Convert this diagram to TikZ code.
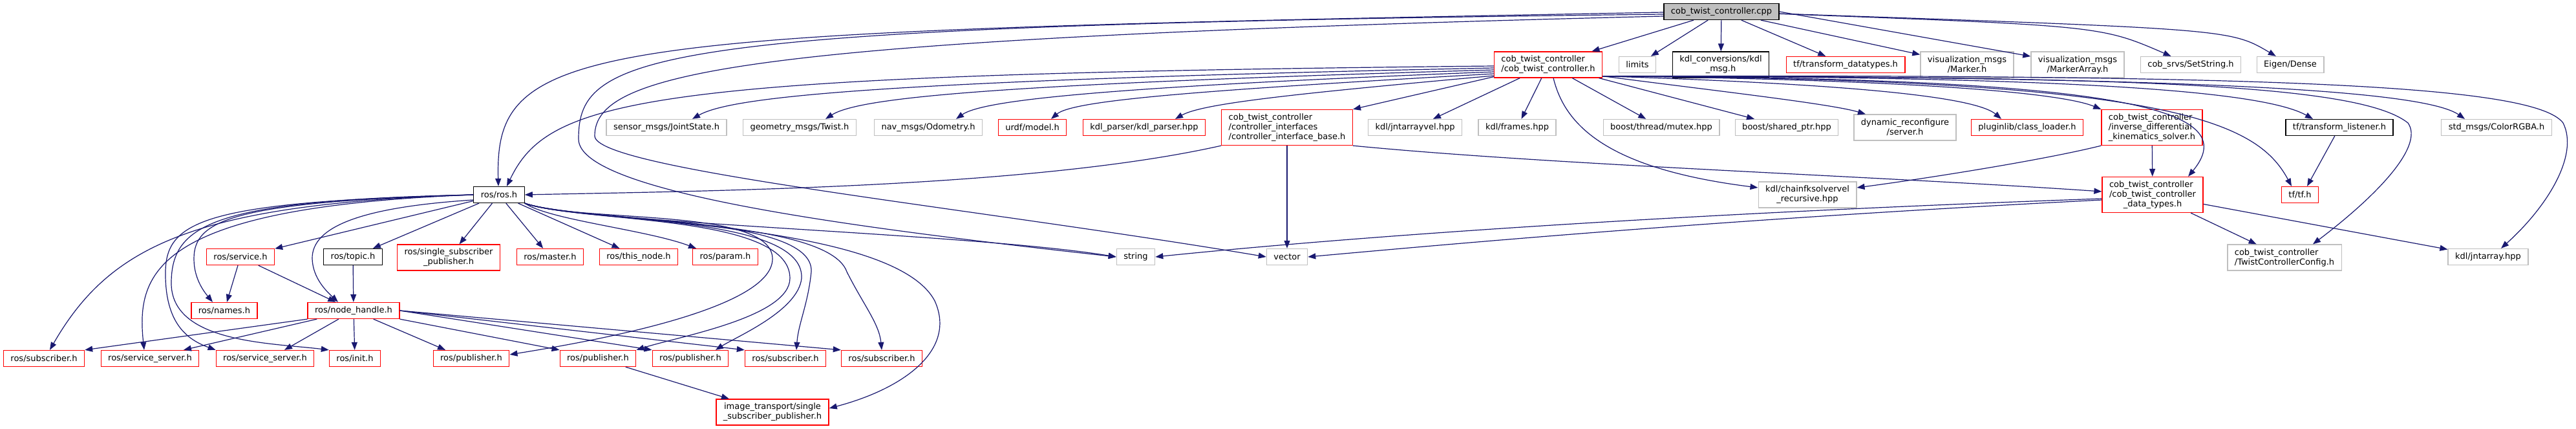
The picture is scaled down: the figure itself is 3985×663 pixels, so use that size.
\documentclass[tikz,border=0pt]{standalone}
\usepackage{fontspec}
\setmainfont{DejaVu Sans}
\usetikzlibrary{arrows.meta}
\definecolor{edgeblue}{HTML}{191970}
\definecolor{boxgray}{HTML}{BFBFBF}
\definecolor{boxred}{HTML}{FF0000}
\tikzset{
  every node/.style={font=\fontsize{13}{15}\selectfont},
  file/.style={rectangle, draw=boxgray, line width=1.3pt, inner xsep=11pt, inner ysep=0pt, minimum height=25pt, align=center},
  redfile/.style={file, draw=boxred},
  blackfile/.style={file, draw=black},
  rootfile/.style={file, draw=black, fill=boxgray},
  twolines/.style={minimum height=40pt},
  threelines/.style={minimum height=55pt},
  incl/.style={-{Triangle[length=12pt,width=9pt]}, line width=1.2pt, edgeblue},
}

\begin{document}
\begin{tikzpicture}[x=1pt,y=-1pt]
    \useasboundingbox (0,0) rectangle (3985,663);
    % files
    \node[rootfile] (root) at (2663,18) {cob\_twist\_controller.cpp};

    \node[redfile,twolines,align=left] (ctrl) at (2395,100) {cob\_twist\_controller\\/cob\_twist\_controller.h};
    \node[file] (limits) at (2533,100) {limits};
    \node[blackfile,twolines] (kdlconv) at (2662,100) {kdl\_conversions/kdl\\\_msg.h};
    \node[redfile] (tfdata) at (2855,100) {tf/transform\_datatypes.h};
    \node[file,twolines] (vismarker) at (3043,100) {visualization\_msgs\\/Marker.h};
    \node[file,twolines] (vismarkerarr) at (3214,100) {visualization\_msgs\\/MarkerArray.h};
    \node[file] (setstring) at (3389,100) {cob\_srvs/SetString.h};
    \node[file] (eigen) at (3543,100) {Eigen/Dense};

    \node[file] (sensor) at (1031,197) {sensor\_msgs/JointState.h};
    \node[file] (twist) at (1237,197) {geometry\_msgs/Twist.h};
    \node[file] (odom) at (1436,197) {nav\_msgs/Odometry.h};
    \node[redfile] (urdf) at (1597,197) {urdf/model.h};
    \node[redfile] (kdlparser) at (1770,197) {kdl\_parser/kdl\_parser.hpp};
    \node[redfile,threelines,align=left] (ifacebase) at (1991,197) {cob\_twist\_controller\\/controller\_interfaces\\/controller\_interface\_base.h};
    \node[file] (jntvel) at (2189,197) {kdl/jntarrayvel.hpp};
    \node[file] (frames) at (2347,197) {kdl/frames.hpp};
    \node[file] (mutex) at (2570,197) {boost/thread/mutex.hpp};
    \node[file] (sharedptr) at (2764,197) {boost/shared\_ptr.hpp};
    \node[file,twolines] (dynreconf) at (2947,197) {dynamic\_reconfigure\\/server.h};
    \node[redfile] (pluginlib) at (3136,197) {pluginlib/class\_loader.h};
    \node[redfile,threelines,align=left] (invdiff) at (3329,197) {cob\_twist\_controller\\/inverse\_differential\\\_kinematics\_solver.h};
    \node[blackfile] (tflisten) at (3619,197) {tf/transform\_listener.h};
    \node[file] (colorrgba) at (3862,197) {std\_msgs/ColorRGBA.h};

    \node[blackfile] (ros) at (772,301) {ros/ros.h};
    \node[file,twolines] (chainfk) at (2796,301) {kdl/chainfksolvervel\\\_recursive.hpp};
    \node[redfile,threelines,align=left] (datatypes) at (3330,301) {cob\_twist\_controller\\/cob\_twist\_controller\\\hspace*{\fill}\_data\_types.h\hspace*{\fill}};
    \node[redfile] (tf) at (3558,301) {tf/tf.h};

    \node[redfile] (service) at (372,397) {ros/service.h};
    \node[blackfile] (topic) at (546,397) {ros/topic.h};
    \node[redfile,twolines] (singlesub) at (694,398) {ros/single\_subscriber\\\_publisher.h};
    \node[redfile] (master) at (851,397) {ros/master.h};
    \node[redfile] (thisnode) at (988,397) {ros/this\_node.h};
    \node[redfile] (param) at (1122,397) {ros/param.h};
    \node[file] (string) at (1757,397) {string};
    \node[file] (vector) at (1991,397) {vector};
    \node[file,twolines,align=left] (twistcfg) at (3534,398) {cob\_twist\_controller\\/TwistControllerConfig.h};
    \node[file] (jntarray) at (3849,397) {kdl/jntarray.hpp};

    \node[redfile] (names) at (347,480) {ros/names.h};
    \node[redfile] (nodehandle) at (547,480) {ros/node\_handle.h};

    \node[redfile] (sub1) at (68,554) {ros/subscriber.h};
    \node[redfile] (srv1) at (232,554) {ros/service\_server.h};
    \node[redfile] (srv2) at (410,554) {ros/service\_server.h};
    \node[redfile] (init) at (549,554) {ros/init.h};
    \node[redfile] (pub1) at (729,554) {ros/publisher.h};
    \node[redfile] (pub2) at (925,554) {ros/publisher.h};
    \node[redfile] (pub3) at (1068,554) {ros/publisher.h};
    \node[redfile] (sub2) at (1215,554) {ros/subscriber.h};
    \node[redfile] (sub3) at (1364,554) {ros/subscriber.h};

    \node[redfile,twolines] (imgtrans) at (1195,637) {image\_transport/single\\\_subscriber\_publisher.h};

    % includes of cob_twist_controller.cpp
    \draw[incl] (root) -- (ctrl);
    \draw[incl] (root) -- (limits);
    \draw[incl] (root) -- (kdlconv);
    \draw[incl] (root) -- (tfdata);
    \draw[incl] (root) -- (vismarker);
    \draw[incl] (root.east) -- (vismarkerarr);
    \draw[incl] (root) .. controls (3250,40) .. (setstring);
    \draw[incl] (root) .. controls (3450,45) .. (eigen);
    \draw[incl] ([yshift=-1pt]root.west) .. controls (900,50) and (765,60) .. ([xshift=-1pt]ros.north);
    \draw[incl] ([yshift=-4pt]root.west) .. controls (1000,40) and (895,80) .. (895,215)
                .. controls (895,300) and (1350,355) .. (string.west);
    \draw[incl] ([yshift=-7pt]root.west) .. controls (1150,60) and (920,110) .. (920,210)
                .. controls (920,262) and (1500,320) .. (vector.west);

    % includes of cob_twist_controller.h
    \draw[incl] ([yshift=-2pt]ctrl.west) .. controls (1000,115) and (850,150) .. ([xshift=12pt]ros.north);
    \draw[incl] ([yshift=-5pt]ctrl.west) .. controls (1350,125) and (1130,150) .. ([xshift=40pt]sensor.north);
    \draw[incl] ([yshift=-8pt]ctrl.west) .. controls (1550,130) and (1330,150) .. ([xshift=40pt]twist.north);
    \draw[incl] ([yshift=-11pt]ctrl.west) .. controls (1700,135) and (1520,155) .. ([xshift=43pt]odom.north);
    \draw[incl] ([yshift=-14pt]ctrl.west) .. controls (1850,140) and (1660,155) .. ([xshift=29pt]urdf.north);
    \draw[incl] ([yshift=-17pt]ctrl.west) .. controls (2000,145) and (1860,160) .. ([xshift=48pt]kdlparser.north);
    \draw[incl] ([yshift=2pt]ctrl.south west) -- (ifacebase.north east);
    \draw[incl] (ctrl) -- (jntvel);
    \draw[incl] (ctrl) -- (frames);
    \draw[incl] ([xshift=8pt]ctrl.south) .. controls (2420,190) and (2480,260) .. ([yshift=11pt]chainfk.west);
    \draw[incl] (ctrl) -- (mutex);
    \draw[incl] (ctrl) -- (sharedptr);
    \draw[incl] ([yshift=3pt]ctrl.south east) .. controls (2650,140) and (2830,160) .. ([xshift=-61pt]dynreconf.north);
    \draw[incl] ([yshift=3pt]ctrl.south east) .. controls (2800,128) and (3050,145) .. ([xshift=-40pt]pluginlib.north);
    \draw[incl] ([yshift=3pt]ctrl.south east) .. controls (2900,122) and (3180,140) .. (invdiff.north west);
    \draw[incl] ([yshift=3pt]ctrl.south east) .. controls (3300,120) and (3470,170) .. ([xshift=55pt]datatypes.north);
    \draw[incl] ([yshift=3pt]ctrl.south east) .. controls (3350,122) and (3490,185) .. ([xshift=-13pt]tf.north);
    \draw[incl] ([yshift=3pt]ctrl.south east) .. controls (3200,118) and (3500,140) .. ([xshift=-41pt]tflisten.north);
    \draw[incl] ([yshift=3pt]ctrl.south east) .. controls (3400,118) and (3750,140) .. ([xshift=-49pt]colorrgba.north);
    \draw[incl] ([yshift=3pt]ctrl.south east) .. controls (3300,118) and (3650,130) .. (3725,190)
                .. controls (3750,225) and (3680,300) .. ([xshift=44pt]twistcfg.north);
    \draw[incl] ([yshift=3pt]ctrl.south east) .. controls (3500,115) and (3920,130) .. (3965,190)
                .. controls (3990,240) and (3940,320) .. ([xshift=20pt]jntarray.north);

    % second level
    \draw[incl] (ifacebase.south west) .. controls (1600,290) and (1100,295) .. (ros.east);
    \draw[incl] (ifacebase) -- (vector);
    \draw[incl] (ifacebase.south east) .. controls (2400,255) and (2900,272) .. ([yshift=5pt]datatypes.west);
    \draw[incl] (invdiff) -- (datatypes);
    \draw[incl] (invdiff.south west) .. controls (3150,250) and (2950,280) .. ([yshift=11pt]chainfk.east);
    \draw[incl] (tflisten) -- ([xshift=11pt]tf.north);
    \draw[incl] (datatypes) -- (twistcfg);
    \draw[incl] (datatypes) -- (jntarray);
    \draw[incl] ([yshift=-6pt]datatypes.west) .. controls (2600,330) and (2100,365) .. (string.east);
    \draw[incl] ([yshift=-8pt]datatypes.west) .. controls (2700,337) and (2300,372) .. (vector.east);

    % includes of ros/ros.h
    \draw[incl] (ros) -- (service);
    \draw[incl] (ros) -- (topic);
    \draw[incl] (ros) -- (singlesub);
    \draw[incl] (ros) -- (master);
    \draw[incl] (ros) -- (thisnode);
    \draw[incl] (ros.south east) .. controls (850,340) and (1000,355) .. ([xshift=-45pt]param.north);
    \draw[incl] (ros.south east) .. controls (900,345) and (1500,360) .. (string.west);
    \draw[incl] (ros.west) .. controls (360,312) and (300,340) .. (300,400)
                .. controls (300,430) and (315,450) .. ([xshift=-18pt]names.north);
    \draw[incl] ([yshift=-8pt]ros.west) .. controls (560,320) and (482,350) .. (483,400)
                .. controls (484,430) and (505,450) .. ([xshift=-24pt]nodehandle.north);
    \draw[incl] (ros.west) .. controls (300,315) and (170,380) .. ([xshift=9pt]sub1.north);
    \draw[incl] (ros.west) .. controls (240,320) and (210,420) .. ([xshift=-9pt]srv1.north);
    \draw[incl] (ros.west) .. controls (320,312) and (257,340) .. (256,420)
                .. controls (255,500) and (290,525) .. (srv2.north west);
    \draw[incl] (ros.west) .. controls (330,310) and (264,345) .. (265,440)
                .. controls (268,530) and (420,530) .. (init.north west);
    \draw[incl] (ros.south east) .. controls (900,345) and (1195,320) .. (1195,400)
                .. controls (1195,480) and (900,530) .. ([yshift=6pt]pub1.east);
    \draw[incl] (ros.south east) .. controls (900,345) and (1222,330) .. (1222,430)
                .. controls (1222,490) and (1050,520) .. (pub2.north east);
    \draw[incl] (ros.south east) .. controls (900,345) and (1245,330) .. (1240,430)
                .. controls (1235,480) and (1140,520) .. ([xshift=39pt]pub3.north);
    \draw[incl] (ros.south east) .. controls (900,345) and (1260,330) .. (1255,420)
                .. controls (1250,470) and (1235,500) .. ([xshift=17pt]sub2.north);
    \draw[incl] (ros.south east) .. controls (900,345) and (1280,335) .. (1310,420)
                .. controls (1335,470) and (1360,500) .. (sub3.north);
    \draw[incl] (ros.south east) .. controls (900,345) and (1380,340) .. (1446,465)
                .. controls (1480,540) and (1400,600) .. ([yshift=6pt]imgtrans.east);

    % ros/service.h, ros/topic.h, ros/node_handle.h
    \draw[incl] (service) -- (names);
    \draw[incl] (service) -- (nodehandle);
    \draw[incl] (topic) -- (nodehandle);
    \draw[incl] (nodehandle.south west) -- (sub1.north east);
    \draw[incl] (nodehandle) -- ([xshift=52pt]srv1.north);
    \draw[incl] (nodehandle) -- ([xshift=30pt]srv2.north);
    \draw[incl] (nodehandle) -- (init);
    \draw[incl] (nodehandle) -- ([xshift=-40pt]pub1.north);
    \draw[incl] (nodehandle.south east) -- (pub2.north west);
    \draw[incl] (nodehandle.east) -- (pub3.north west);
    \draw[incl] (nodehandle.east) -- (sub2.north west);
    \draw[incl] (nodehandle.east) -- (sub3.north west);
    \draw[incl] (pub2) -- (imgtrans);
\end{tikzpicture}
\end{document}
